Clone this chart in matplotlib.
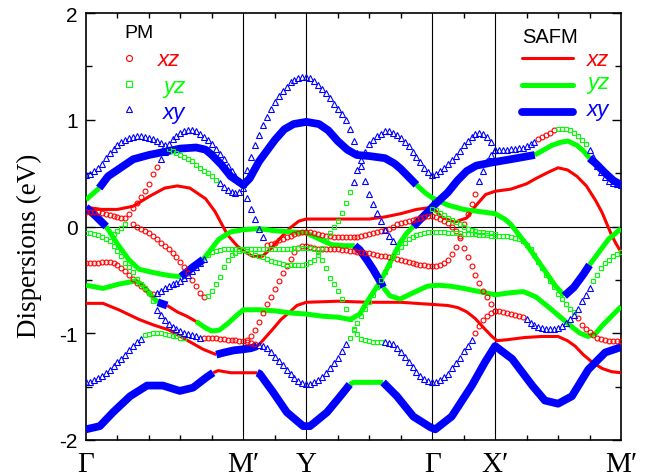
import numpy as np
import matplotlib
matplotlib.use("Agg")
import matplotlib.pyplot as plt
from matplotlib.ticker import MultipleLocator

plt.rcParams["font.family"] = ["Liberation Sans", "DejaVu Sans"]
plt.rcParams["axes.unicode_minus"] = False

RED, GREEN, BLUE = "#ff0000", "#00ff00", "#0000ff"

# high symmetry points of the k-path
kpos = [0, 2.5, 3.5, 5.5, 6.5, 8.5]
klabels = ["Γ", "M′", "Y", "Γ", "X′", "M′"]

# ---------------- PM bands (open symbols): (start k, energies every DK) ----------------
DK = 0.0625
pm_xz = [
    (0.0, [0.14, 0.14, 0.14, 0.14, 0.13, 0.12, 0.11, 0.10,
           0.09, 0.08, 0.08, 0.12, 0.17, 0.22, 0.28, 0.33,
           0.40, 0.49, 0.56]),
    (0.75, [0.02, 0.00, -0.02, -0.04,
            -0.06, -0.09, -0.12, -0.15, -0.18, -0.21, -0.25, -0.29,
            -0.33, -0.38, -0.44, -0.50, -0.56, -0.62, -0.66]),
    (0.0, [-0.34, -0.34, -0.34, -0.34, -0.33, -0.33, -0.33, -0.34,
           -0.36, -0.39, -0.42, -0.45, -0.49, -0.53, -0.56, -0.59,
           -0.62, -0.63]),
    (1.875, [-1.04, -1.04,
             -1.04, -1.04, -1.05, -1.05, -1.06, -1.06, -1.06, -1.07,
             -1.07, -1.06, -1.03, -0.97, -0.89, -0.81, -0.73, -0.66,
             -0.59, -0.51, -0.44, -0.37, -0.30, -0.24, -0.20, -0.18,
             -0.18, -0.19, -0.20, -0.21, -0.21, -0.21, -0.21, -0.21,
             -0.21, -0.22, -0.22, -0.23, -0.23, -0.24, -0.24, -0.25,
             -0.25, -0.26, -0.27, -0.28, -0.28, -0.29, -0.29, -0.30,
             -0.31, -0.32, -0.33, -0.34, -0.35, -0.36, -0.36, -0.37,
             -0.37, -0.37, -0.36, -0.34, -0.31, -0.26, -0.19, -0.09,
             0.02, 0.12, 0.21, 0.30]),
    (2.5625, [-1.08, -1.09, -1.10]),
    (2.875, [-0.17, -0.16,
             -0.15, -0.13, -0.12, -0.10, -0.09, -0.07, -0.06, -0.05,
             -0.05, -0.05, -0.06, -0.07, -0.08, -0.09, -0.09, -0.10,
             -0.10, -0.10, -0.10, -0.10, -0.10, -0.10, -0.09, -0.08,
             -0.07, -0.06, -0.05, -0.04, -0.03, -0.02, 0.00, 0.02,
             0.03, 0.04, 0.05, 0.06, 0.07, 0.08, 0.09, 0.10,
             0.10, 0.09, 0.07, 0.05, 0.03, 0.00, -0.04, -0.11,
             -0.20, -0.29, -0.37, -0.45, -0.53, -0.60, -0.66, -0.73,
             -0.79]),
    (6.1875, [-1.00, -0.93, -0.88, -0.84, -0.81,
              -0.79, -0.79, -0.80, -0.81, -0.82, -0.83, -0.84, -0.85]),
    (7.1875, [0.82, 0.84, 0.86, 0.88, 0.90]),
    (7.8125, [-0.86, -0.92, -0.96,
              -0.99, -1.02, -1.04, -1.05, -1.06, -1.07, -1.07, -1.07, -1.07]),
]
pm_yz = [
    (1.3125, [0.73, 0.71, 0.69,
              0.67, 0.65, 0.63, 0.61, 0.58, 0.55, 0.52, 0.50,
              0.47, 0.44]),
    (1.9375, [-0.65,
              -0.60, -0.54, -0.47, -0.38, -0.31, -0.27, -0.25, -0.23,
              -0.22, -0.23, -0.25, -0.27, -0.28, -0.29, -0.30, -0.32,
              -0.33, -0.34, -0.35, -0.36, -0.36, -0.36, -0.36, -0.36,
              -0.35, -0.33, -0.31, -0.27, -0.20, -0.13, -0.06, 0.00,
              0.05, 0.13, 0.22, 0.32]),
    (0.0, [-0.06, -0.06, -0.07, -0.08, -0.10, -0.12, -0.14, -0.18,
           -0.23, -0.28, -0.34, -0.38, -0.43, -0.49, -0.54, -0.58,
           -0.62, -0.70]),
    (0.4375, [-0.07, -0.04, -0.01, 0.02]),
    (0.9375, [-1.02,
              -1.01, -1.00, -1.00, -1.00, -1.01, -1.02, -1.03, -1.03,
              -1.04, -1.04]),
    (1.9375, [-0.27,
              -0.24, -0.23, -0.22, -0.21, -0.21, -0.21, -0.21, -0.21,
              -0.21, -0.21, -0.21, -0.21, -0.21, -0.21, -0.21, -0.21,
              -0.21, -0.21, -0.21, -0.21, -0.21, -0.20, -0.20, -0.20,
              -0.20, -0.20, -0.21, -0.24, -0.31, -0.39, -0.48, -0.54,
              -0.60, -0.68, -0.77, -0.87, -0.96, -1.01, -1.05, -1.06,
              -1.07, -1.08, -1.08, -1.08]),
    (4.1875, [-1.04,
              -0.97, -0.90, -0.84, -0.77,
              -0.71, -0.64, -0.57, -0.50, -0.43, -0.36, -0.29, -0.24,
              -0.19, -0.15, -0.12, -0.10, -0.08, -0.07, -0.06, -0.05,
              -0.05, -0.05, -0.05, -0.05, -0.06, -0.06, -0.06, -0.06,
              -0.07, -0.07, -0.07, -0.07, -0.08, -0.08, -0.08, -0.09,
              -0.09, -0.09, -0.09, -0.09, -0.10, -0.11, -0.12, -0.14,
              -0.17, -0.21, -0.27, -0.33, -0.39, -0.45, -0.51, -0.57,
              -0.63, -0.68, -0.73, -0.77, -0.80]),
    (5.5, [0.16, 0.15, 0.13, 0.11, 0.08, 0.06, 0.04, 0.02,
           0.00, -0.02, -0.03, -0.04, -0.05, -0.05, -0.06, -0.06,
           -0.07]),
    (7.5, [0.91, 0.91, 0.91, 0.90, 0.88, 0.85, 0.81, 0.77]),
    (8.0625, [-0.51, -0.45, -0.39, -0.34, -0.31, -0.28, -0.26, -0.24]),
]
pm_xy = [
    (0.0, [0.48, 0.49, 0.52, 0.55, 0.59, 0.64, 0.69, 0.73,
           0.76, 0.79, 0.81, 0.83, 0.84, 0.85, 0.85, 0.84,
           0.83, 0.82, 0.80, 0.78, 0.76]),
    (1.1875, [0.63, 0.70, 0.77, 0.82, 0.85,
              0.88, 0.89, 0.90, 0.90, 0.89, 0.87, 0.84, 0.81,
              0.77, 0.73, 0.68, 0.63, 0.57, 0.52, 0.47, 0.43,
              0.40, 0.53, 0.65, 0.76, 0.86, 0.95, 1.03, 1.10,
              1.17, 1.22, 1.27, 1.31, 1.35, 1.37, 1.39, 1.40,
              1.40, 1.39, 1.36, 1.33, 1.29, 1.25, 1.20, 1.15,
              1.10, 1.05, 1.00, 0.91, 0.80, 0.69, 0.57, 0.43,
              0.30, 0.21, 0.13, 0.05, -0.03, -0.09, -0.14]),
    (2.125, [0.41, 0.37, 0.34, 0.32, 0.31, 0.32,
             0.36, 0.27, 0.16, 0.07, -0.02, -0.10]),
    (1.125, [-0.62, -0.60, -0.58, -0.56, -0.54, -0.53,
             -0.51, -0.48, -0.45, -0.42, -0.38, -0.34, -0.30]),
    (1.125, [-0.78, -0.83, -0.88, -0.91, -0.94, -0.96,
             -0.98, -1.00, -1.01, -1.02, -1.03, -1.04]),
    (0.0, [-1.46, -1.46, -1.44, -1.42, -1.40, -1.37, -1.34, -1.31,
           -1.27, -1.24, -1.20, -1.16, -1.12, -1.08, -1.05]),
    (2.75, [-1.11, -1.12, -1.14, -1.18,
            -1.22, -1.26, -1.30, -1.34, -1.38, -1.42, -1.45, -1.47,
            -1.48, -1.48, -1.46, -1.44, -1.41, -1.37, -1.33, -1.28,
            -1.23, -1.17, -1.10]),
    (4.25, [0.42, 0.53, 0.62, 0.70,
            0.77, 0.81, 0.85, 0.87, 0.89, 0.89, 0.88, 0.86,
            0.83, 0.79, 0.75, 0.70, 0.65, 0.60, 0.55, 0.51,
            0.48, 0.49, 0.52, 0.55, 0.59, 0.62, 0.66, 0.71,
            0.76, 0.80, 0.84, 0.87, 0.88, 0.87, 0.84, 0.79,
            0.72, 0.72, 0.72, 0.72, 0.73, 0.73, 0.74, 0.74,
            0.75, 0.77, 0.79]),
    (8.0, [0.72, 0.65, 0.57, 0.51, 0.46, 0.43, 0.41, 0.40, 0.39]),
    (4.75, [-1.08, -1.09, -1.10, -1.14,
            -1.18, -1.22, -1.27, -1.32, -1.36, -1.40, -1.43, -1.45,
            -1.46, -1.46, -1.44, -1.41, -1.38, -1.33, -1.28, -1.23,
            -1.17, -1.12, -1.06]),
    (6.25, [0.43, 0.52, 0.61, 0.67, 0.72]),
    (7.0, [-0.87, -0.90, -0.92, -0.94, -0.95, -0.96, -0.96, -0.96,
           -0.95, -0.93, -0.90, -0.87, -0.83, -0.77, -0.70, -0.64,
           -0.58]),
]

# ---------------- SAFM bands (lines): pieces of (k, E) by orbital character ----------------
safm_xz = [
    [(0, 0.18), (0.25, 0.16), (0.5, 0.16), (0.75, 0.19), (1.0, 0.28), (1.25, 0.36),
     (1.45, 0.38), (1.65, 0.36), (1.9, 0.26), (2.05, 0.14), (2.15, 0.03), (2.25, -0.08),
     (2.4, -0.18), (2.5, -0.23), (2.65, -0.28), (2.8, -0.28), (2.95, -0.20), (3.1, -0.10),
     (3.25, -0.01), (3.38, 0.05), (3.5, 0.07), (4.0, 0.07), (4.5, 0.07), (4.75, 0.09),
     (5.0, 0.12), (5.25, 0.16), (5.5, 0.18), (5.65, 0.09), (5.85, 0.04), (6.05, 0.08),
     (6.2, 0.20), (6.35, 0.30), (6.5, 0.33), (6.75, 0.35), (7.0, 0.40), (7.15, 0.45),
     (7.35, 0.51), (7.5, 0.55), (7.65, 0.53), (7.8, 0.47), (7.95, 0.38), (8.1, 0.24),
     (8.2, 0.13), (8.35, -0.08), (8.42, -0.16), (8.5, -0.24)],
    [(1.29, -0.74), (1.45, -0.80), (1.6, -0.84), (1.75, -0.89)],
    [(0, -0.72), (0.27, -0.72), (0.52, -0.78), (0.84, -0.87), (1.06, -0.92), (1.32, -0.97),
     (1.59, -1.06), (1.86, -1.15), (2.07, -1.20)],
    [(2.72, -1.12), (2.76, -1.10), (2.97, -0.96), (3.1, -0.87), (3.24, -0.80), (3.35, -0.74),
     (3.5, -0.71), (4.0, -0.70), (4.5, -0.71), (5.0, -0.71), (5.5, -0.73), (5.75, -0.74),
     (5.91, -0.76), (6.05, -0.80), (6.18, -0.86), (6.32, -0.95), (6.45, -1.03), (6.53, -1.07),
     (6.7, -1.06), (6.97, -1.04), (7.25, -1.03), (7.5, -1.03), (7.65, -1.07), (7.77, -1.12),
     (7.9, -1.20), (8.04, -1.27), (8.2, -1.33), (8.35, -1.36), (8.5, -1.37)],
    [(2.02, -1.37), (2.1, -1.35), (2.3, -1.37), (2.5, -1.37), (2.72, -1.37)],
]
safm_yz = [
    [(0, 0.25), (0.21, 0.36)],
    [(5.25, 0.39), (5.4, 0.31), (5.5, 0.27), (5.75, 0.20), (6.0, 0.16), (6.25, 0.14),
     (6.5, 0.12), (6.65, 0.07), (6.75, 0.02), (7.0, -0.17), (7.25, -0.38), (7.45, -0.55),
     (7.6, -0.65)],
    [(8.0, -0.36), (8.15, -0.24), (8.3, -0.12), (8.5, -0.02)],
    [(0.32, 0.0), (0.52, -0.18), (0.68, -0.31), (0.84, -0.40), (1.06, -0.43), (1.32, -0.46),
     (1.51, -0.47)],
    [(1.86, -0.31), (2.11, -0.12), (2.3, -0.05), (2.5, -0.03), (2.75, -0.02), (3.0, -0.04),
     (3.25, -0.05), (3.5, -0.06), (3.75, -0.13), (3.9, -0.17), (4.1, -0.18), (4.27, -0.18)],
    [(4.72, -0.57), (4.83, -0.65), (4.99, -0.68), (5.2, -0.62), (5.42, -0.56), (5.6, -0.55),
     (5.8, -0.56), (6.0, -0.58), (6.25, -0.61), (6.5, -0.64), (6.75, -0.62), (6.95, -0.61),
     (7.15, -0.66), (7.4, -0.78), (7.6, -0.88), (7.72, -0.94), (7.85, -1.0), (7.98, -1.03),
     (8.1, -1.0), (8.2, -0.93), (8.35, -0.84), (8.5, -0.75)],
    [(0, -0.55), (0.27, -0.58), (0.52, -0.54), (0.79, -0.51), (0.9, -0.55), (1.06, -0.66),
     (1.14, -0.71)],
    [(1.75, -0.89), (1.9, -0.95), (2.0, -0.98), (2.12, -0.97), (2.25, -0.91), (2.38, -0.84),
     (2.5, -0.78), (2.75, -0.78), (3.0, -0.79), (3.25, -0.81), (3.5, -0.82), (3.75, -0.84),
     (4.0, -0.85), (4.2, -0.87), (4.35, -0.82), (4.46, -0.71), (4.56, -0.62), (4.67, -0.52),
     (4.78, -0.40), (4.88, -0.28), (4.99, -0.15), (5.1, -0.06), (5.2, 0.0)],
    [(7.13, 0.67), (7.25, 0.71), (7.4, 0.76), (7.55, 0.79), (7.66, 0.80), (7.8, 0.76),
     (7.9, 0.71), (8.0, 0.64)],
    [(4.19, -1.48), (4.25, -1.46), (4.5, -1.46), (4.72, -1.46)],
]
safm_xy = [
    [(0.21, 0.36), (0.35, 0.47), (0.5, 0.53), (0.75, 0.63), (1.0, 0.67), (1.25, 0.70),
     (1.5, 0.73), (1.75, 0.74), (1.9, 0.72), (2.0, 0.67), (2.15, 0.58), (2.3, 0.47),
     (2.5, 0.39), (2.6, 0.45), (2.75, 0.61), (3.0, 0.81), (3.15, 0.91), (3.3, 0.96),
     (3.5, 0.98), (3.7, 0.96), (3.85, 0.90), (4.0, 0.80), (4.15, 0.72), (4.3, 0.67),
     (4.5, 0.66), (4.75, 0.64), (4.9, 0.59), (5.0, 0.54), (5.15, 0.45), (5.25, 0.39)],
    [(7.6, -0.65), (7.75, -0.57), (7.9, -0.45), (8.0, -0.36)],
    [(0, 0.18), (0.15, 0.10), (0.32, 0.0)],
    [(1.51, -0.47), (1.7, -0.38), (1.86, -0.31)],
    [(4.27, -0.18), (4.35, -0.22), (4.46, -0.31), (4.56, -0.40), (4.67, -0.51), (4.72, -0.57)],
    [(1.14, -0.71), (1.29, -0.74)],
    [(5.2, 0.0), (5.3, 0.06), (5.42, 0.13), (5.55, 0.21), (5.75, 0.32), (5.9, 0.43),
     (6.05, 0.52), (6.2, 0.57), (6.45, 0.60), (6.75, 0.63), (7.13, 0.67)],
    [(8.0, 0.64), (8.1, 0.59), (8.25, 0.50), (8.38, 0.43), (8.5, 0.39)],
    [(2.07, -1.20), (2.2, -1.18), (2.35, -1.16), (2.5, -1.15), (2.62, -1.14), (2.72, -1.12)],
    [(0, -1.90), (0.22, -1.87), (0.43, -1.74), (0.7, -1.59), (0.97, -1.49), (1.22, -1.49),
     (1.49, -1.54), (1.7, -1.51), (1.92, -1.41), (2.02, -1.37)],
    [(2.72, -1.37), (2.76, -1.38), (2.97, -1.55), (3.19, -1.74), (3.45, -1.87), (3.56, -1.87),
     (3.83, -1.74), (4.04, -1.59), (4.19, -1.48)],
    [(4.72, -1.46), (4.94, -1.59), (5.2, -1.78), (5.47, -1.88), (5.55, -1.90), (5.81, -1.78),
     (6.13, -1.49), (6.34, -1.27), (6.5, -1.12), (6.77, -1.24), (7.09, -1.49), (7.29, -1.63),
     (7.5, -1.66), (7.72, -1.59), (7.98, -1.34), (8.25, -1.18), (8.5, -1.13)],
]

fig = plt.figure(figsize=(6.57, 4.77), dpi=100)
ax = fig.add_axes([86 / 657, 1 - 441 / 477, 535 / 657, 427 / 477])

# SAFM lines
for pieces, col, lw in [(safm_xz, RED, 2.2), (safm_yz, GREEN, 3.6), (safm_xy, BLUE, 5.6)]:
    for pts in pieces:
        k, e = zip(*pts)
        ax.plot(k, e, color=col, lw=lw, solid_capstyle="butt", solid_joinstyle="round", zorder=3)

# PM symbols
for pieces, mk, col, ms in [(pm_xz, "o", RED, 3.5), (pm_yz, "s", GREEN, 3.5), (pm_xy, "^", BLUE, 4.2)]:
    for k0, e in pieces:
        k = k0 + DK * np.arange(len(e))
        ax.plot(k, e, ls="none", marker=mk, ms=ms, mfc="none", mec=col, mew=0.8, zorder=4)

for kp in kpos[1:-1]:
    ax.axvline(kp, color="black", lw=0.8, zorder=2)
ax.axhline(0, color="black", lw=0.8, zorder=2)

ax.set_xlim(0, 8.5)
ax.set_ylim(-2, 2)
ax.set_xticks(kpos)
ax.set_xticklabels(klabels, family=["Liberation Serif", "DejaVu Serif"], fontsize=21)
ax.xaxis.set_minor_locator(MultipleLocator(0.5))
ax.set_yticks([-2, -1, 0, 1, 2])
ax.yaxis.set_minor_locator(MultipleLocator(0.5))
ax.tick_params(axis="x", which="major", length=0, pad=8)
ax.tick_params(axis="x", which="minor", length=3.6, width=1.0, direction="in", top=True, bottom=True)
ax.tick_params(axis="y", which="major", length=6.5, width=1.0, direction="in", left=True,
               right=True, labelsize=15, pad=6)
ax.tick_params(axis="y", which="minor", length=4, width=1.0, direction="in", left=True, right=True)
for sp in ax.spines.values():
    sp.set_linewidth(1.2)

ax.set_ylabel("Dispersions (eV)", family=["Liberation Serif", "DejaVu Serif"], fontsize=19.5)
ax.yaxis.set_label_coords(-0.082, 0.457)

# legends drawn by hand
tr = ax.transAxes
ax.text(0.071, 0.955, "PM", transform=tr, fontsize=14, va="center", ha="left")
for yy, mk, col, ms in [(0.895, "o", RED, 4.3), (0.834, "s", GREEN, 4.3), (0.775, "^", BLUE, 4.8)]:
    ax.plot([0.081], [yy], ls="none", marker=mk, ms=ms, mfc="none", mec=col, mew=0.8,
            transform=tr, clip_on=False)
for xx, yy, lab, col in [(0.135, 0.878, "xz", RED), (0.144, 0.815, "yz", GREEN), (0.144, 0.754, "xy", BLUE)]:
    ax.text(xx, yy, lab, transform=tr, color=col, fontsize=16, style="italic", va="baseline")

ax.text(0.815, 0.932, "SAFM", transform=tr, fontsize=14.5, va="baseline", ha="left")
for yy, col, lw in [(0.895, RED, 2.2), (0.831, GREEN, 3.6), (0.768, BLUE, 5.6)]:
    ax.plot([0.815, 0.910], [yy, yy], color=col, lw=lw, transform=tr, solid_capstyle="round")
for yy, lab, col in [(0.878, "xz", RED), (0.824, "yz", GREEN), (0.761, "xy", BLUE)]:
    ax.text(0.937, yy, lab, transform=tr, color=col, fontsize=16, style="italic", va="baseline")

fig.savefig("out.png", dpi=100)
